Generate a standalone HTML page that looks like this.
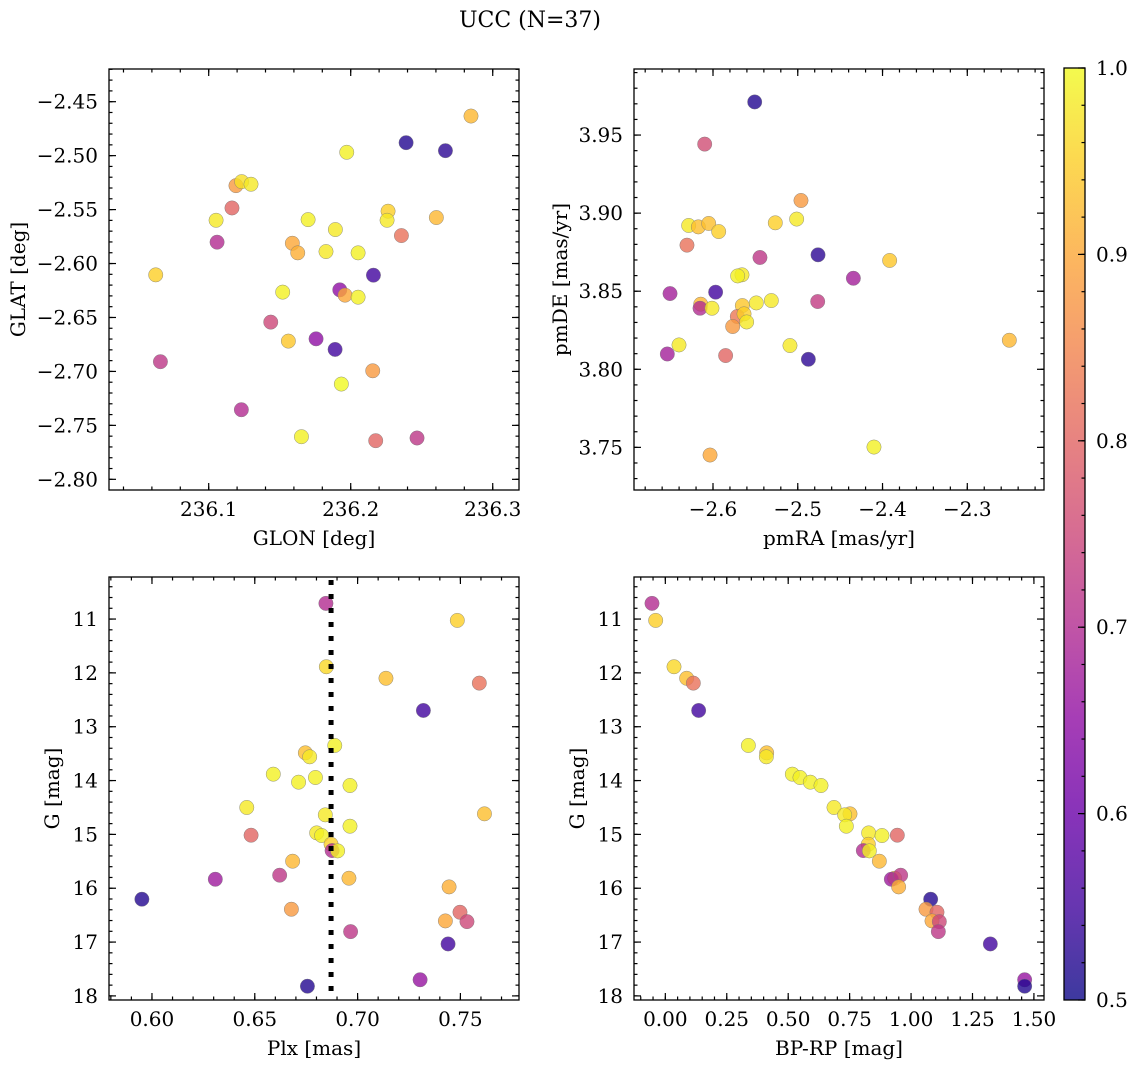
<!DOCTYPE html>
<html><head><meta charset="utf-8"><title>UCC (N=37)</title>
<style>
html,body{margin:0;padding:0;background:#fff;}
svg{display:block;font-family:"DejaVu Serif","Liberation Serif",serif;}
</style></head>
<body>
<svg id="fig" width="1136" height="1067" viewBox="0 0 1136 1067" xmlns="http://www.w3.org/2000/svg">
<defs>
<linearGradient id="plasmaGrad" x1="0" y1="1" x2="0" y2="0">
<stop offset="0" stop-color="#0d0887"/><stop offset="0.1" stop-color="#41049d"/><stop offset="0.2" stop-color="#6a00a8"/><stop offset="0.3" stop-color="#8f0da4"/><stop offset="0.4" stop-color="#b12a90"/><stop offset="0.5" stop-color="#cc4778"/><stop offset="0.6" stop-color="#e16462"/><stop offset="0.7" stop-color="#f2844b"/><stop offset="0.8" stop-color="#fca636"/><stop offset="0.9" stop-color="#fcce25"/><stop offset="1" stop-color="#f0f921"/>
</linearGradient>
</defs>
<text x="530" y="27" font-size="22" text-anchor="middle">UCC (N=37)</text>
</svg>
<script>
// ---- Panel 1: GLON vs GLAT ----
const glonVals = [236.2847,236.239,236.2667,236.1972,236.1192,236.1232,236.1298,236.1164,236.1052,236.1059,236.170,236.1892,236.2263,236.2256,236.2603,236.2357,236.1589,236.1627,236.1826,236.2052,236.0627,236.216,236.1521,236.1923,236.196,236.2052,236.1437,236.1561,236.1756,236.189,236.066,236.2155,236.1934,236.123,236.1653,236.2176,236.2467];
const glatVals = [-2.4633,-2.488,-2.4954,-2.4969,-2.5278,-2.5241,-2.5265,-2.5485,-2.5599,-2.5802,-2.5593,-2.5685,-2.5515,-2.5599,-2.5574,-2.5741,-2.5812,-2.5901,-2.5889,-2.5901,-2.6105,-2.6108,-2.6265,-2.6244,-2.6293,-2.6312,-2.6543,-2.6719,-2.6698,-2.6796,-2.691,-2.6994,-2.7117,-2.7355,-2.7605,-2.7642,-2.7617];
const probTop1 = [0.92,0.52,0.53,0.99,0.88,0.97,0.98,0.8,0.98,0.7,0.99,0.98,0.95,0.98,0.92,0.82,0.9,0.91,0.98,0.99,0.95,0.55,0.99,0.65,0.9,0.99,0.75,0.94,0.65,0.55,0.72,0.88,1.0,0.7,0.99,0.8,0.72];
const glonTicks = [236.1,236.2,236.3];
const glonTickLabels = ["236.1","236.2","236.3"];
const glatTicks = [-2.45,-2.5,-2.55,-2.6,-2.65,-2.7,-2.75,-2.8];
const glatTickLabels = ["−2.45","−2.50","−2.55","−2.60","−2.65","−2.70","−2.75","−2.80"];
// ---- Panel 2: pmRA vs pmDE ----
const pmraVals = [-2.5508,-2.6098,-2.4962,-2.5013,-2.5265,-2.6287,-2.6173,-2.6051,-2.5933,-2.6307,-2.5446,-2.4761,-2.3916,-2.5658,-2.5709,-2.4344,-2.6507,-2.5969,-2.6145,-2.6153,-2.6012,-2.5654,-2.5489,-2.5312,-2.4765,-2.5713,-2.5634,-2.5603,-2.5768,-2.6401,-2.5092,-2.6539,-2.5851,-2.4875,-2.2504,-2.4101,-2.6035];
const pmdeVals = [3.9712,3.9442,3.9081,3.8962,3.8938,3.8921,3.8912,3.8934,3.8882,3.8795,3.8716,3.8733,3.8697,3.8605,3.8598,3.8583,3.8485,3.8494,3.8417,3.8391,3.8391,3.8408,3.8425,3.844,3.8434,3.8338,3.8355,3.8303,3.8274,3.8156,3.8152,3.8098,3.8088,3.8064,3.8186,3.7502,3.7451];
const probTop2 = [0.52,0.76,0.88,0.98,0.95,0.98,0.93,0.93,0.95,0.82,0.72,0.53,0.94,0.98,0.99,0.68,0.68,0.55,0.92,0.7,0.98,0.94,0.98,0.98,0.73,0.83,0.95,0.98,0.88,0.98,0.98,0.68,0.8,0.53,0.92,0.99,0.9];
const pmraTicks = [-2.6,-2.5,-2.4,-2.3];
const pmraTickLabels = ["−2.6","−2.5","−2.4","−2.3"];
const pmdeTicks = [3.95,3.9,3.85,3.8,3.75];
const pmdeTickLabels = ["3.95","3.90","3.85","3.80","3.75"];
// ---- Panels 3 & 4: Plx / BP-RP vs G ----
const plxVals = [0.6846,0.7485,0.6848,0.7138,0.7592,0.732,0.6889,0.6746,0.6767,0.659,0.6795,0.6713,0.6963,0.6461,0.7617,0.6843,0.6963,0.6482,0.6801,0.6825,0.6871,0.6876,0.6903,0.6684,0.6958,0.6308,0.6621,0.7445,0.5951,0.6678,0.7498,0.7427,0.7532,0.6966,0.744,0.7304,0.6756];
const bprpVals = [-0.0543,-0.0393,0.0353,0.0868,0.1139,0.1356,0.3378,0.4124,0.411,0.5168,0.548,0.590,0.6335,0.6864,0.7515,0.7298,0.7366,0.9441,0.8275,0.8817,0.8261,0.8057,0.8302,0.8709,0.9333,0.9197,0.9577,0.9495,1.0798,1.0608,1.1055,1.0852,1.115,1.111,1.3226,1.4623,1.4623];
const gmagVals = [10.709,11.025,11.886,12.10,12.19,12.698,13.348,13.485,13.559,13.881,13.943,14.03,14.092,14.5,14.618,14.637,14.848,15.015,14.972,15.021,15.183,15.30,15.306,15.498,15.814,15.833,15.758,15.975,16.204,16.39,16.446,16.607,16.62,16.806,17.035,17.70,17.82];
const probBottom = [0.7,0.95,0.96,0.93,0.82,0.55,0.99,0.93,0.98,0.99,0.99,0.99,0.99,0.98,0.93,0.98,0.99,0.8,0.98,0.99,0.95,0.7,0.99,0.92,0.92,0.67,0.72,0.91,0.52,0.88,0.8,0.9,0.75,0.72,0.55,0.66,0.52];
const plxMedian = [0.6871];
const plxTicks = [0.6,0.65,0.7,0.75];
const plxTickLabels = ["0.60","0.65","0.70","0.75"];
const bprpTicks = [0,0.25,0.5,0.75,1.0,1.25,1.5];
const bprpTickLabels = ["0.00","0.25","0.50","0.75","1.00","1.25","1.50"];
const gTicks = [11,12,13,14,15,16,17,18];
const gTickLabels = ["11","12","13","14","15","16","17","18"];
const cbarTicks = [0.5,0.6,0.7,0.8,0.9,1.0];
const cbarTickLabels = ["0.5","0.6","0.7","0.8","0.9","1.0"];

const NS = "http://www.w3.org/2000/svg";
const svg = document.getElementById("fig");
const FS = 20;
function mk(tag, attrs, parent){const e=document.createElementNS(NS,tag);for(const k in attrs)e.setAttribute(k,attrs[k]);(parent||svg).appendChild(e);return e;}

const plasma = [[13,8,135],[65,4,157],[106,0,168],[143,13,164],[177,42,144],[204,71,120],[225,100,98],[242,132,75],[252,166,54],[252,206,37],[240,249,33]];
function cmap(v){let t=(v-0.5)/0.5;t=Math.max(0,Math.min(1,t));const p=t*10;const i=Math.min(9,Math.floor(p));const f=p-i;const a=plasma[i],b=plasma[i+1];return "rgb("+[0,1,2].map(k=>Math.round(a[k]+(b[k]-a[k])*f)).join(",")+")";}

function fmtStep(x){return Math.round(x*1e6)/1e6;}

function panel(cfg){
  const g = mk("g",{});
  
  
  const L=cfg.box[0],T=cfg.box[1],R=cfg.box[2],B=cfg.box[3];
  const sx = v => L + (v-cfg.xlim[0])/(cfg.xlim[1]-cfg.xlim[0])*(R-L);
  const sy = v => cfg.yinv ? T + (v-cfg.ylim[0])/(cfg.ylim[1]-cfg.ylim[0])*(B-T) : B - (v-cfg.ylim[0])/(cfg.ylim[1]-cfg.ylim[0])*(B-T);
  const pts = mk("g",{},g);
  
  
  for(let i=0;i<cfg.x.length;i++){
    const c = mk("circle",{cx:sx(cfg.x[i]),cy:sy(cfg.y[i]),r:7.2,fill:cmap(cfg.c[i]),"fill-opacity":0.8,stroke:"#777","stroke-width":0.5,"stroke-opacity":0.8},pts);
    
    
  }
  if(cfg.vline){
    const ln = mk("line",{x1:sx(cfg.vline[0]),x2:sx(cfg.vline[0]),y1:T+3,y2:B,stroke:"#000","stroke-width":5,"stroke-dasharray":"5,9"},g);
    
    
  }
  const tk = mk("g",{stroke:"#000","stroke-width":1.2},g);
  
  
  let start=Math.ceil(cfg.xlim[0]/cfg.xminor-1e-9)*cfg.xminor;
  for(let v=start; v<=cfg.xlim[1]+1e-9; v+=cfg.xminor){const X=sx(fmtStep(v));mk("line",{x1:X,x2:X,y1:B,y2:B-3.5},tk);mk("line",{x1:X,x2:X,y1:T,y2:T+3.5},tk);}
  start=Math.ceil(Math.min(cfg.ylim[0],cfg.ylim[1])/cfg.yminor-1e-9)*cfg.yminor;
  for(let v=start; v<=Math.max(cfg.ylim[0],cfg.ylim[1])+1e-9; v+=cfg.yminor){const Y=sy(fmtStep(v));mk("line",{x1:L,x2:L+3.5,y1:Y,y2:Y},tk);mk("line",{x1:R,x2:R-3.5,y1:Y,y2:Y},tk);}
  cfg.xt.forEach((v,i)=>{const X=sx(v);mk("line",{x1:X,x2:X,y1:B,y2:B-7},tk);mk("line",{x1:X,x2:X,y1:T,y2:T+7},tk);
    const t=mk("text",{x:X,y:B+26,"font-size":FS,"text-anchor":"middle"},g);t.textContent=cfg.xtl[i];
    
    });
  cfg.yt.forEach((v,i)=>{const Y=sy(v);mk("line",{x1:L,x2:L+7,y1:Y,y2:Y},tk);mk("line",{x1:R,x2:R-7,y1:Y,y2:Y},tk);
    const t=mk("text",{x:L-11,y:Y+7,"font-size":FS,"text-anchor":"end"},g);t.textContent=cfg.ytl[i];
    
    });
  const fr = mk("rect",{x:L,y:T,width:R-L,height:B-T,fill:"none",stroke:"#000","stroke-width":1.3},g);
  
  
  const xl = mk("text",{x:(L+R)/2,y:B+55,"font-size":FS,"text-anchor":"middle"},g);xl.textContent=cfg.xlabel;
  
  
  const yl = mk("text",{x:0,y:0,"font-size":FS,"text-anchor":"middle",transform:"translate("+cfg.ylx+","+((T+B)/2)+") rotate(-90)"},g);yl.textContent=cfg.ylabel;
  
  
}

panel({name:"glon-glat-panel",box:[109,69,519,490],xlim:[236.0298,236.3185],ylim:[-2.4197,-2.8099],yinv:true,
  x:glonVals,y:glatVals,c:probTop1,xt:glonTicks,xtl:glonTickLabels,yt:glatTicks,ytl:glatTickLabels,xminor:0.02,yminor:0.01,
  xlabel:"GLON [deg]",ylabel:"GLAT [deg]",ylx:25});
panel({name:"pm-panel",box:[634,69,1044,490],xlim:[-2.6932,-2.2095],ylim:[3.7227,3.9923],
  x:pmraVals,y:pmdeVals,c:probTop2,xt:pmraTicks,xtl:pmraTickLabels,yt:pmdeTicks,ytl:pmdeTickLabels,xminor:0.02,yminor:0.01,
  xlabel:"pmRA [mas/yr]",ylabel:"pmDE [mas/yr]",ylx:567});
panel({name:"plx-g-panel",box:[109,577,519,1000],xlim:[0.5791,0.7785],ylim:[10.219,18.076],yinv:true,
  x:plxVals,y:gmagVals,c:probBottom,xt:plxTicks,xtl:plxTickLabels,yt:gTicks,ytl:gTickLabels,xminor:0.01,yminor:0.2,
  xlabel:"Plx [mas]",ylabel:"G [mag]",ylx:59,vline:plxMedian});
panel({name:"cmd-panel",box:[634,577,1044,1000],xlim:[-0.1275,1.541],ylim:[10.219,18.076],yinv:true,
  x:bprpVals,y:gmagVals,c:probBottom,xt:bprpTicks,xtl:bprpTickLabels,yt:gTicks,ytl:gTickLabels,xminor:0.05,yminor:0.2,
  xlabel:"BP-RP [mag]",ylabel:"G [mag]",ylx:584});

const cb = mk("g",{});


const cbL=1064,cbR=1085,cbT=68,cbB=1000;
const cbRect = mk("rect",{x:cbL,y:cbT,width:cbR-cbL,height:cbB-cbT,fill:"url(#plasmaGrad)","fill-opacity":0.8},cb);


const cy = v => cbB-(v-0.5)/0.5*(cbB-cbT);
for(let k=0;k<=25;k++){const v=0.5+k*0.02;const Y=cy(v);mk("line",{x1:cbR,x2:cbR-3.5,y1:Y,y2:Y,stroke:"#000","stroke-width":1.2},cb);}
cbarTicks.forEach((v,i)=>{const Y=cy(v);mk("line",{x1:cbR,x2:cbR-7,y1:Y,y2:Y,stroke:"#000","stroke-width":1.2},cb);
  const t=mk("text",{x:1096,y:Y+7,"font-size":FS},cb);t.textContent=cbarTickLabels[i];
  
  });
mk("rect",{x:cbL,y:cbT,width:cbR-cbL,height:cbB-cbT,fill:"none",stroke:"#000","stroke-width":1.3},cb);
</script>
</body></html>
